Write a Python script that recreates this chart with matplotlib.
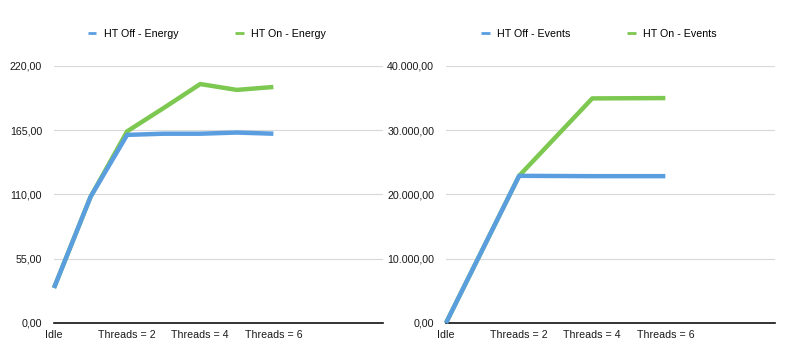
import matplotlib.pyplot as plt
from matplotlib.ticker import FuncFormatter

plt.rcParams['font.family'] = ['Liberation Sans', 'DejaVu Sans']

# category positions: 0 = Idle, n = Threads = n
tick_pos = [0, 2, 4, 6]
tick_labels = ['Idle', 'Threads = 2', 'Threads = 4', 'Threads = 6']

energy_x = [0, 1, 2, 3, 4, 5, 6]
energy_off = [30, 108, 161, 162, 162, 163, 162]
energy_on = [30, 108, 164, 184, 204.5, 199.5, 202]

events_x = [0, 2, 4, 6]
events_off = [0, 22900, 22850, 22850]
events_on = [0, 22900, 34950, 35000]

BLUE = '#5b9ee0'
GREEN = '#7dc850'


def fmt_de(v, pos):
    s = '{:,.2f}'.format(v)
    return s.replace(',', 'X').replace('.', ',').replace('X', '.')


def style_axis(ax, ymax, step):
    ax.set_xlim(0, 9)
    ax.set_ylim(0, ymax)
    ax.set_yticks([step * i for i in range(5)])
    ax.yaxis.set_major_formatter(FuncFormatter(fmt_de))
    ax.set_xticks(tick_pos)
    ax.set_xticklabels(tick_labels)
    ax.grid(axis='y', color='#d9d9d9', linewidth=0.8)
    ax.set_axisbelow(True)
    for s in ['top', 'right', 'left']:
        ax.spines[s].set_visible(False)
    ax.spines['bottom'].set_color('#111111')
    ax.spines['bottom'].set_linewidth(1.2)
    ax.tick_params(length=0, labelsize=7.7, colors='#1a1a1a')
    ax.tick_params(axis='x', pad=5)
    ax.tick_params(axis='y', pad=8.5)


def draw(ax, x, y, color, label, z):
    ax.plot(x, y, color=color, lw=3.2, label=label, zorder=z, clip_on=False,
            solid_capstyle='butt', solid_joinstyle='round')


fig = plt.figure(figsize=(8, 3.59), dpi=100)
ax1 = fig.add_axes([0.0675, 0.1003, 0.4113, 0.716])
ax2 = fig.add_axes([0.5575, 0.1003, 0.4113, 0.716])

draw(ax1, energy_x, energy_off, BLUE, 'HT Off - Energy', 3)
draw(ax1, energy_x, energy_on, GREEN, 'HT On - Energy', 2)
style_axis(ax1, 220, 55)

draw(ax2, events_x, events_off, BLUE, 'HT Off - Events', 3)
draw(ax2, events_x, events_on, GREEN, 'HT On - Events', 2)
style_axis(ax2, 40000, 10000)

for ax in (ax1, ax2):
    leg = ax.legend(ncol=2, loc='center', bbox_to_anchor=(0.465, 1.125), frameon=False,
                    fontsize=7.7, handlelength=0.8, handletextpad=0.7, columnspacing=5.3)
    for h in leg.legend_handles:
        h.set_linewidth(2)

fig.savefig('out.png', dpi=100)
